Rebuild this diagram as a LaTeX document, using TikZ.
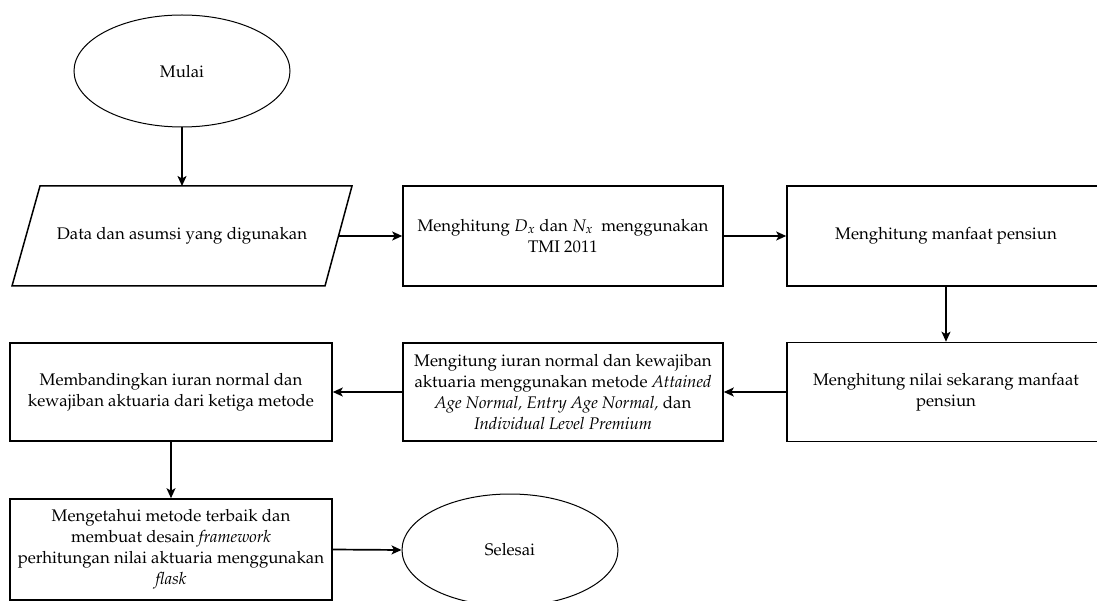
\documentclass[tikz,border=0pt]{standalone}
\usepackage[T1]{fontenc}
\usepackage{mathpazo}
\usetikzlibrary{shapes.geometric,arrows.meta}
\begin{document}
\begin{tikzpicture}[x=1pt,y=-1pt,
  every node/.style={font=\fontsize{16.8}{21}\selectfont, align=center, inner sep=0pt},
  box/.style={draw, line width=1.6pt, minimum height=100pt},
  term/.style={draw, ellipse, line width=1pt, minimum width=216pt, minimum height=112pt},
  conn/.style={line width=1.7pt, -{Stealth[length=10pt,width=9pt,inset=2.5pt]}}]
\clip (0,0) rectangle (1097,601);
\useasboundingbox (0,0) rectangle (1097,601);
\node[term] (mulai) at (182,71) {Mulai};
\draw[line width=1.5pt] (12,286) -- (40,186) -- (352,186) -- (325,286) -- cycle;
\node (data) at (182,236) {Data dan asumsi yang digunakan};
\coordinate (dataN) at (182,186);
\coordinate (dataE) at (338.5,236);
\node[box, minimum width=320pt] (b2) at (563,236) {Menghitung $D_x$ dan $N_x$~ menggunakan\\TMI 2011};
\node[box, minimum width=318pt] (b3) at (946,236) {Menghitung manfaat pensiun};
\node[box, minimum width=318pt, minimum height=99pt] (b4) at (946,392) {Menghitung nilai sekarang manfaat\\pensiun};
\node[box, minimum width=320pt, minimum height=98pt] (b5) at (563,392) {Mengitung iuran normal dan kewajiban\\aktuaria menggunakan metode \textit{Attained}\\\textit{Age Normal, Entry Age Normal,} dan\\\textit{Individual Level Premium}};
\node[box, minimum width=322pt, minimum height=98pt] (b6) at (171,392) {Membandingkan iuran normal dan\\kewajiban aktuaria dari ketiga metode};
\node[box, minimum width=322pt, minimum height=101pt] (b7) at (171,549.5) {Mengetahui metode terbaik dan\\membuat desain \textit{framework}\\perhitungan nilai aktuaria menggunakan\\\textit{flask}};
\node[term] (selesai) at (510,550) {Selesai};
\draw[conn] (mulai.south) -- (dataN);
\draw[conn] (dataE) -- (b2.west);
\draw[conn] (b2.east) -- (b3.west);
\draw[conn] (b3.south) -- (b4.north);
\draw[conn] (b4.west) -- (b5.east);
\draw[conn] (b5.west) -- (b6.east);
\draw[conn] (b6.south) -- (b7.north);
\draw[conn] (b7.east) -- (selesai.west);
\end{tikzpicture}
\end{document}
